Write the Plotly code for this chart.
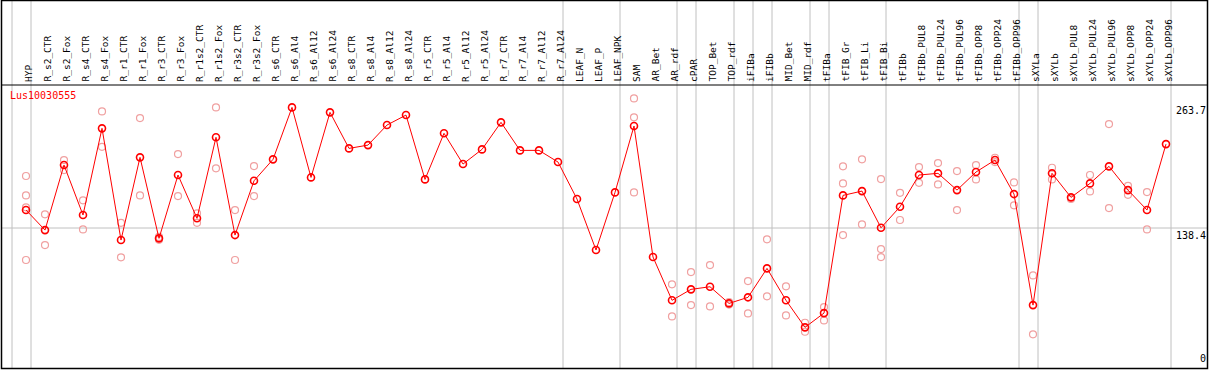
import plotly.graph_objects as go

categories = ["HYP", "R_s2_CTR", "R_s2_Fox", "R_s4_CTR", "R_s4_Fox", "R_r1_CTR", "R_r1_Fox",
              "R_r3_CTR", "R_r3_Fox", "R_r1s2_CTR", "R_r1s2_Fox", "R_r3s2_CTR", "R_r3s2_Fox",
              "R_s6_CTR", "R_s6_Al4", "R_s6_Al12", "R_s6_Al24", "R_s8_CTR", "R_s8_Al4", "R_s8_Al12",
              "R_s8_Al24", "R_r5_CTR", "R_r5_Al4", "R_r5_Al12", "R_r5_Al24", "R_r7_CTR", "R_r7_Al4",
              "R_r7_Al12", "R_r7_Al24", "LEAF_N", "LEAF_P", "LEAF_NPK", "SAM", "AR_Bet", "AR_rdf",
              "cPAR", "TOP_Bet", "TOP_rdf", "iFIBa", "iFIBb", "MID_Bet", "MID_rdf", "tFIBa",
              "tFIB_Gr", "tFIB_Li", "tFIB_Bi", "tFIBb", "tFIBb_PUL8", "tFIBb_PUL24", "tFIBb_PUL96",
              "tFIBb_OPP8", "tFIBb_OPP24", "tFIBb_OPP96", "sXYLa", "sXYLb", "sXYLb_PUL8",
              "sXYLb_PUL24", "sXYLb_PUL96", "sXYLb_OPP8", "sXYLb_OPP24", "sXYLb_OPP96"]

means = [156.4, 136.3, 201.5, 151.4, 238.3, 126.3, 209.2, 128.0, 191.5, 148.1, 229.3, 131.3, 185.7,
         207.2, 259.3, 189.1, 254.3, 218.2, 221.5, 241.6, 251.6, 187.1, 233.3, 202.5, 217.2, 244.3,
         216.2, 216.2, 204.5, 167.4, 116.3, 174.1, 240.6, 109.3, 65.9, 76.9, 79.5, 62.8, 68.9, 97.9,
         65.9, 38.8, 53.1, 171.1, 175.4, 138.6, 159.7, 191.5, 193.2, 176.4, 194.5, 206.5, 172.4,
         61.1, 193.2, 169.1, 183.1, 200.2, 176.4, 156.4, 222.5]

replicates = [[190.5, 171.1, 159.1, 106.3], [152.1, 121.3], [206.5, 196.5], [166.1, 137.0],
              [255.3, 219.8], [143.6, 109.0], [248.6, 171.1], [129.5, 126.5], [212.5, 170.4],
              [153.1, 143.6], [259.3, 198.2], [156.4, 106.3], [200.5, 170.4],
              [], [], [], [], [], [], [], [], [], [], [], [], [], [], [], [], [], [], [],
              [268.3, 249.3, 174.1], [], [81.9, 49.8], [94.2, 61.1], [101.2, 59.8], [64.0, 61.6],
              [85.2, 52.8], [127.0, 69.9], [79.9, 50.8], [43.4, 34.4], [59.1, 45.8],
              [200.2, 183.1, 131.3], [207.2, 142.0], [187.4, 117.3, 109.3], [173.7, 146.4],
              [199.5, 183.7], [203.5, 182.1], [195.5, 156.4], [201.5, 187.1], [208.8, 204.5],
              [184.1, 161.1], [90.9, 31.8], [198.8, 187.1], [167.5], [191.5, 175.1],
              [242.6, 158.4], [180.7, 171.7], [174.4, 137.0], []]

group_ends = ["HYP", "R_r7_Al24", "LEAF_NPK", "AR_rdf", "cPAR", "TOP_rdf", "iFIBa", "iFIBb",
              "MID_rdf", "tFIBa", "tFIB_Bi", "tFIBb_OPP96", "sXYLa", "sXYLb_OPP96"]

y_ticks = [263.7, 138.4, 0]
y_tick_labels = ["263.7", "138.4", "0"]
gene = "Lus10030555"

W, H = 1209, 370
ML, MR, MT, MB = 1, 2, 85, 1
PW = W - ML - MR
PH = H - MT - MB


def py(p):
    return (H - MB - p) / PH


def px(p):
    return (p - ML) / PW


xs = list(range(len(categories)))
rep_x, rep_y = [], []
for i, reps in enumerate(replicates):
    for v in reps:
        rep_x.append(i)
        rep_y.append(v)

fig = go.Figure()
fig.add_trace(go.Scatter(x=rep_x, y=rep_y, mode="markers",
                         marker=dict(symbol="circle-open", size=7, color="#f0a0a0",
                                     line=dict(width=1.2, color="#f0a0a0")),
                         cliponaxis=False, showlegend=False, hoverinfo="skip"))
fig.add_trace(go.Scatter(x=xs, y=means, mode="lines+markers",
                         line=dict(color="#ff0000", width=1),
                         marker=dict(symbol="circle-open", size=7, color="#ff0000",
                                     line=dict(width=1.6, color="#ff0000")),
                         cliponaxis=False, showlegend=False))

shapes = []
sep_idx = [-1] + [categories.index(c) for c in group_ends]
for i in sep_idx:
    shapes.append(dict(type="line", xref="x", yref="paper", x0=i + 0.263, x1=i + 0.263,
                       y0=py(369), y1=py(0), line=dict(color="#c0c0c0", width=1), layer="below"))
shapes.append(dict(type="line", xref="paper", yref="y", x0=0, x1=1, y0=138.4, y1=138.4,
                   line=dict(color="#c0c0c0", width=1), layer="below"))
shapes.append(dict(type="line", xref="paper", yref="paper", x0=0, x1=1, y0=py(85), y1=py(85),
                   line=dict(color="black", width=1)))
shapes.append(dict(type="rect", xref="paper", yref="paper", x0=px(1.5), x1=px(1207.5),
                   y0=py(368.5), y1=py(0.5), line=dict(color="black", width=1.5)))

annotations = []
for i, c in enumerate(categories):
    annotations.append(dict(x=i, xref="x", y=py(84), yref="paper", text=c, showarrow=False,
                            textangle=-90, xanchor="center", yanchor="bottom", xshift=2.5,
                            font=dict(family="DejaVu Sans Mono", size=9.5, color="black")))
for v, t in zip(y_ticks, y_tick_labels):
    annotations.append(dict(x=px(1208), xref="paper", y=v, yref="y", text=t, showarrow=False,
                            xanchor="right", yanchor="bottom" if v == 0 else "top",
                            font=dict(family="DejaVu Sans Mono", size=10, color="black")))
annotations.append(dict(x=px(8), xref="paper", y=py(88), yref="paper", text=gene,
                        showarrow=False, xanchor="left", yanchor="top",
                        font=dict(family="DejaVu Sans Mono", size=10, color="#ff0000")))

fig.update_layout(
    width=W, height=H,
    margin=dict(l=ML, r=MR, t=MT, b=MB, pad=0),
    paper_bgcolor="white", plot_bgcolor="white",
    xaxis=dict(range=[-25 / 19, -25 / 19 + PW / 19], visible=False, fixedrange=True),
    yaxis=dict(range=[281.74 - PH / 0.99761, 281.74], visible=False, fixedrange=True),
    shapes=shapes, annotations=annotations, showlegend=False,
)

fig.write_html("out.html",
               config={"displayModeBar": False},
               post_script="document.body.style.margin='0';document.body.style.overflow='hidden';")
